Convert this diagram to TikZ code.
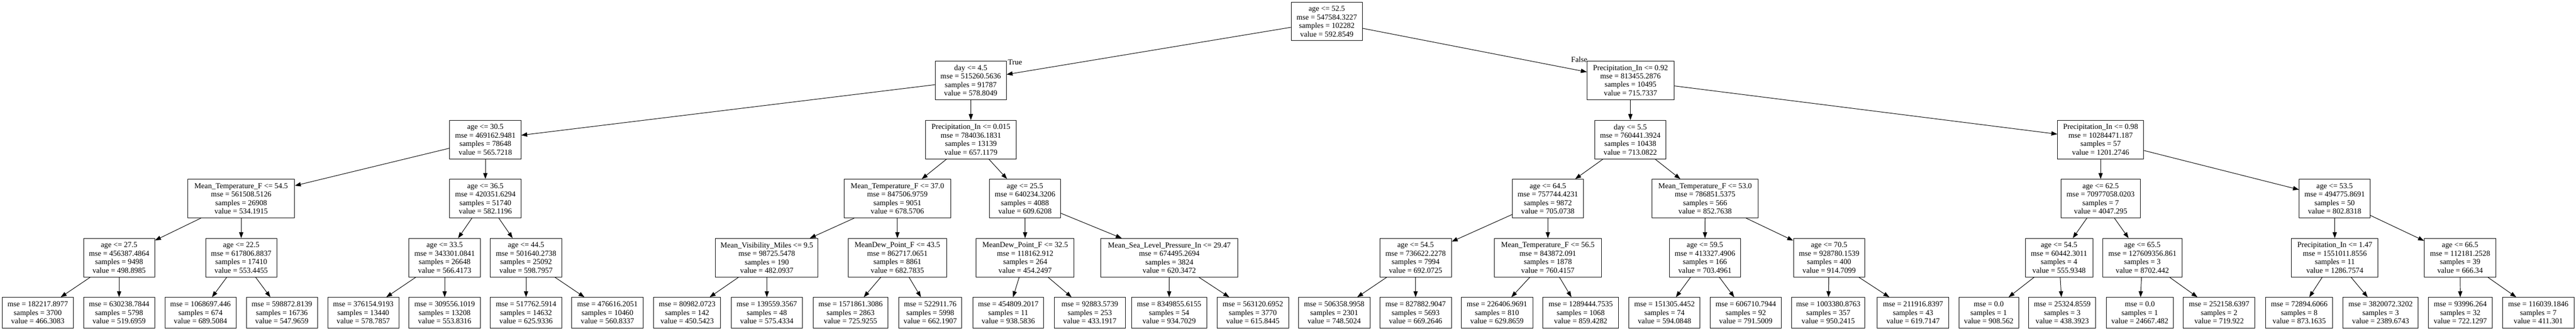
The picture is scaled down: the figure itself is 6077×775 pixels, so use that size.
\documentclass[tikz,border=0pt]{standalone}
\usepackage{fontspec}
\setmainfont{Liberation Serif}
\usetikzlibrary{arrows.meta}
\tikzset{
  dn/.style={draw=black, line width=1.2pt, rectangle, align=center, inner xsep=10pt, inner ysep=0pt,
    minimum height=91pt, font=\fontsize{18}{20}\selectfont},
  ln/.style={dn, minimum height=72pt},
  conn/.style={line width=1.2pt, -{Triangle[length=14pt,width=10pt]}},
  lab/.style={font=\fontsize{18}{20}\selectfont, inner sep=0pt},
}
\begin{document}
\begin{tikzpicture}[x=1pt,y=-1pt]
\fill[white] (0,0) rectangle (6077,775);
\useasboundingbox (0,0) rectangle (6077,775);
% level 0
\node[dn, minimum width=168pt] (n0) at (3130,50.5) {age <= 52.5\\mse = 547584.3227\\samples = 102282\\value = 592.8549};
% level 1
\node[dn, minimum width=168pt] (n1) at (2290,189.5) {day <= 4.5\\mse = 515260.5636\\samples = 91787\\value = 578.8049};
\node[dn, minimum width=205pt] (n2) at (3846.5,189.5) {Precipitation\_In <= 0.92\\mse = 813455.2876\\samples = 10495\\value = 715.7337};
% level 2
\node[dn, minimum width=168pt] (a305) at (1145,329) {age <= 30.5\\mse = 469162.9481\\samples = 78648\\value = 565.7218};
\node[dn, minimum width=213pt] (p0015) at (2290.5,329) {Precipitation\_In <= 0.015\\mse = 784036.1831\\samples = 13139\\value = 657.1179};
\node[dn, minimum width=167.5pt] (d55) at (3846,329) {day <= 5.5\\mse = 760441.3924\\samples = 10438\\value = 713.0822};
\node[dn, minimum width=203pt] (p098) at (4955.5,329) {Precipitation\_In <= 0.98\\mse = 10284471.187\\samples = 57\\value = 1201.2746};
% level 3
\node[dn, minimum width=252pt] (mt545) at (569,468) {Mean\_Temperature\_F <= 54.5\\mse = 561508.5126\\samples = 26908\\value = 534.1915};
\node[dn, minimum width=168pt] (a365) at (1145,468) {age <= 36.5\\mse = 420351.6294\\samples = 51740\\value = 582.1196};
\node[dn, minimum width=252pt] (mt370) at (2117,468) {Mean\_Temperature\_F <= 37.0\\mse = 847506.9759\\samples = 9051\\value = 678.5706};
\node[dn, minimum width=168pt] (a255) at (2418,468) {age <= 25.5\\mse = 640234.3206\\samples = 4088\\value = 609.6208};
\node[dn, minimum width=167pt] (a645) at (3651.5,468) {age <= 64.5\\mse = 757744.4231\\samples = 9872\\value = 705.0738};
\node[dn, minimum width=251pt] (mt530) at (4022.5,468) {Mean\_Temperature\_F <= 53.0\\mse = 786851.5375\\samples = 566\\value = 852.7638};
\node[dn, minimum width=187pt] (a625) at (4955.5,468) {age <= 62.5\\mse = 70977058.0203\\samples = 7\\value = 4047.295};
\node[dn, minimum width=167pt] (a535) at (5507.5,468) {age <= 53.5\\mse = 494775.8691\\samples = 50\\value = 802.8318};
% level 4
\node[dn, minimum width=168pt] (a275) at (281,607.5) {age <= 27.5\\mse = 456387.4864\\samples = 9498\\value = 498.8985};
\node[dn, minimum width=168pt] (a225) at (569,607.5) {age <= 22.5\\mse = 617806.8837\\samples = 17410\\value = 553.4455};
\node[dn, minimum width=168pt] (a335) at (1049,607.5) {age <= 33.5\\mse = 343301.0841\\samples = 26648\\value = 566.4173};
\node[dn, minimum width=168pt] (a445) at (1241,607.5) {age <= 44.5\\mse = 501640.2738\\samples = 25092\\value = 598.7957};
\node[dn, minimum width=242pt] (mv95) at (1809,607.5) {Mean\_Visibility\_Miles <= 9.5\\mse = 98725.5478\\samples = 190\\value = 482.0937};
\node[dn, minimum width=232pt] (md435) at (2117,607.5) {MeanDew\_Point\_F <= 43.5\\mse = 862717.0651\\samples = 8861\\value = 682.7835};
\node[dn, minimum width=231pt] (md325) at (2418.5,607.5) {MeanDew\_Point\_F <= 32.5\\mse = 118162.912\\samples = 264\\value = 454.2497};
\node[dn, minimum width=323pt] (mslp) at (2758.5,607.5) {Mean\_Sea\_Level\_Pressure\_In <= 29.47\\mse = 674495.2694\\samples = 3824\\value = 620.3472};
\node[dn, minimum width=169pt] (a545a) at (3339.5,607.5) {age <= 54.5\\mse = 736622.2278\\samples = 7994\\value = 692.0725};
\node[dn, minimum width=252pt] (mt565) at (3651.5,607.5) {Mean\_Temperature\_F <= 56.5\\mse = 843872.091\\samples = 1878\\value = 760.4157};
\node[dn, minimum width=168pt] (a595) at (4022,607.5) {age <= 59.5\\mse = 413327.4906\\samples = 166\\value = 703.4961};
\node[dn, minimum width=168.5pt] (a705) at (4315,607.5) {age <= 70.5\\mse = 928780.1539\\samples = 400\\value = 914.7099};
\node[dn, minimum width=159pt] (a545b) at (4857.5,607.5) {age <= 54.5\\mse = 60442.3011\\samples = 4\\value = 555.9348};
\node[dn, minimum width=186.5pt] (a655) at (5054,607.5) {age <= 65.5\\mse = 127609356.861\\samples = 3\\value = 8702.442};
\node[dn, minimum width=204pt] (p147) at (5508,607.5) {Precipitation\_In <= 1.47\\mse = 1551011.8556\\samples = 11\\value = 1286.7574};
\node[dn, minimum width=169pt] (a665) at (5803.5,607.5) {age <= 66.5\\mse = 112181.2528\\samples = 39\\value = 666.34};
% leaves
\node[ln, minimum width=168pt] (l1) at (89,737) {mse = 182217.8977\\samples = 3700\\value = 466.3083};
\node[ln, minimum width=168pt] (l2) at (281,737) {mse = 630238.7844\\samples = 5798\\value = 519.6959};
\node[ln, minimum width=168pt] (l3) at (473,737) {mse = 1068697.446\\samples = 674\\value = 689.5084};
\node[ln, minimum width=168pt] (l4) at (665,737) {mse = 598872.8139\\samples = 16736\\value = 547.9659};
\node[ln, minimum width=168pt] (l5) at (857,737) {mse = 376154.9193\\samples = 13440\\value = 578.7857};
\node[ln, minimum width=168pt] (l6) at (1049,737) {mse = 309556.1019\\samples = 13208\\value = 553.8316};
\node[ln, minimum width=168pt] (l7) at (1241,737) {mse = 517762.5914\\samples = 14632\\value = 625.9336};
\node[ln, minimum width=168pt] (l8) at (1433,737) {mse = 476616.2051\\samples = 10460\\value = 560.8337};
\node[ln, minimum width=158pt] (l9) at (1621,737) {mse = 80982.0723\\samples = 142\\value = 450.5423};
\node[ln, minimum width=168pt] (l10) at (1809,737) {mse = 139559.3567\\samples = 48\\value = 575.4334};
\node[ln, minimum width=177pt] (l11) at (2006.5,737) {mse = 1571861.3086\\samples = 2863\\value = 725.9255};
\node[ln, minimum width=149pt] (l12) at (2194.5,737) {mse = 522911.76\\samples = 5998\\value = 662.1907};
\node[ln, minimum width=167pt] (l13) at (2378.5,737) {mse = 454809.2017\\samples = 11\\value = 938.5836};
\node[ln, minimum width=168pt] (l14) at (2571,737) {mse = 92883.5739\\samples = 253\\value = 433.1917};
\node[ln, minimum width=178pt] (l15) at (2758,737) {mse = 8349855.6155\\samples = 54\\value = 934.7029};
\node[ln, minimum width=169pt] (l16) at (2955.5,737) {mse = 563120.6952\\samples = 3770\\value = 615.8445};
\node[ln, minimum width=169pt] (l17) at (3147.5,737) {mse = 506358.9958\\samples = 2301\\value = 748.5024};
\node[ln, minimum width=169pt] (l18) at (3339.5,737) {mse = 827882.9047\\samples = 5693\\value = 669.2646};
\node[ln, minimum width=169pt] (l19) at (3531.5,737) {mse = 226406.9691\\samples = 810\\value = 629.8659};
\node[ln, minimum width=178pt] (l20) at (3729,737) {mse = 1289444.7535\\samples = 1068\\value = 859.4282};
\node[ln, minimum width=168pt] (l21) at (3926.6,737) {mse = 151305.4452\\samples = 74\\value = 594.0848};
\node[ln, minimum width=168.7pt] (l22) at (4118.4,737) {mse = 606710.7944\\samples = 92\\value = 791.5009};
\node[ln, minimum width=172.5pt] (l23) at (4313,737) {mse = 1003380.8763\\samples = 357\\value = 950.2415};
\node[ln, minimum width=168.4pt] (l24) at (4513,737) {mse = 211916.8397\\samples = 43\\value = 619.7147};
\node[ln, minimum width=141pt] (l25) at (4691.5,737) {mse = 0.0\\samples = 1\\value = 908.562};
\node[ln, minimum width=158pt] (l26) at (4865,737) {mse = 25324.8559\\samples = 3\\value = 438.3923};
\node[ln, minimum width=158.4pt] (l27) at (5048,737) {mse = 0.0\\samples = 1\\value = 24667.482};
\node[ln, minimum width=168.6pt] (l28) at (5235,737) {mse = 252158.6397\\samples = 2\\value = 719.922};
\node[ln, minimum width=158.4pt] (l29) at (5424,737) {mse = 72894.6066\\samples = 8\\value = 873.1635};
\node[ln, minimum width=178pt] (l30) at (5616,737) {mse = 3820072.3202\\samples = 3\\value = 2389.6743};
\node[ln, minimum width=150.5pt] (l31) at (5804,737) {mse = 93996.264\\samples = 32\\value = 722.1297};
\node[ln, minimum width=168.5pt] (l32) at (5988,737) {mse = 116039.1846\\samples = 7\\value = 411.301};
% edge labels
\node[lab] (ltrue) at (2394.5,146.5) {True};
\node[lab] (lfalse) at (3725.5,140) {False};
% edges
\foreach \p/\a/\b in {n0/n1/n2, n1/a305/p0015, n2/d55/p098,
  a305/mt545/a365, p0015/mt370/a255, d55/a645/mt530, p098/a625/a535,
  mt545/a275/a225, a365/a335/a445, mt370/mv95/md435, a255/md325/mslp,
  a645/a545a/mt565, mt530/a595/a705, a625/a545b/a655, a535/p147/a665,
  a275/l1/l2, a225/l3/l4, a335/l5/l6, a445/l7/l8, mv95/l9/l10, md435/l11/l12,
  md325/l13/l14, mslp/l15/l16, a545a/l17/l18, mt565/l19/l20, a595/l21/l22,
  a705/l23/l24, a545b/l25/l26, a655/l27/l28, p147/l29/l30, a665/l31/l32}
{
  \draw[conn] (\p) -- (\a);
  \draw[conn] (\p) -- (\b);
}
\end{tikzpicture}
\end{document}
